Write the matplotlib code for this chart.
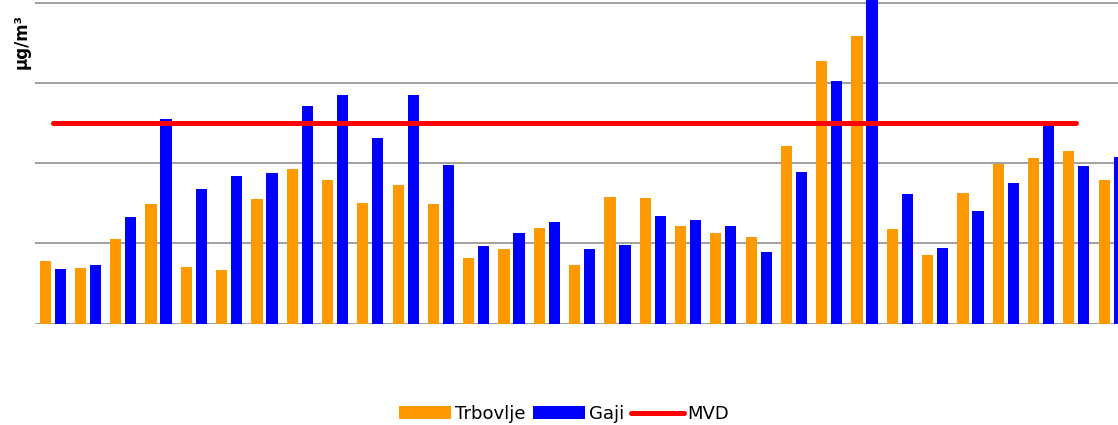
import numpy as np
import matplotlib.pyplot as plt

# daily PM10 concentrations, µg/m³
days = list(range(1, 32))
trbovlje = [15.7, 13.9, 21.2, 29.7, 14.0, 13.4, 31.1, 38.5, 35.9, 30.0,
            34.6, 29.7, 16.4, 18.7, 23.8, 14.5, 31.5, 31.3, 24.3, 22.5,
            21.6, 44.4, 65.4, 71.6, 23.5, 17.0, 32.5, 39.7, 41.4, 43.0, 35.7]
gaji = [13.5, 14.6, 26.5, 50.9, 33.6, 36.8, 37.5, 54.2, 56.9, 46.2,
        57.0, 39.5, 19.3, 22.5, 25.3, 18.7, 19.6, 26.9, 25.7, 24.2,
        17.9, 37.7, 60.5, 86.0, 32.2, 18.8, 28.1, 35.1, 49.2, 39.4, 41.5]
mvd = [50] * 30

fig = plt.figure(figsize=(11.18, 4.25), dpi=100)
# axis spans past the right edge of the figure
ax = fig.add_axes([35 / 1118, 101.5 / 425, 1094.3 / 1118, 323.5 / 425])

x = np.arange(len(days))
off = 0.2125
w = 0.32
b1 = ax.bar(x - off, trbovlje, width=w, color='#FF9900', label='Trbovlje', zorder=2)
b2 = ax.bar(x + off, gaji, width=w, color='#0000FF', label='Gaji', zorder=2)
l1, = ax.plot(np.arange(len(mvd)), mvd, color='#FF0000', lw=3.6,
              solid_capstyle='round', label='MVD', zorder=3)

ax.set_xlim(-0.5, len(days) - 0.5)
ax.set_ylim(0, 80.7)
ax.set_yticks([0, 20, 40, 60, 80])
ax.yaxis.grid(True, color='#999999', lw=1.3, zorder=0)
ax.tick_params(left=False, bottom=False, labelleft=False, labelbottom=False)
for s in ax.spines.values():
    s.set_visible(False)

fig.text(22 / 1118, 1 - 42 / 425, 'µg/m³', rotation=90, ha='center',
         va='center', fontsize=12, fontweight='bold')

fig.legend(handles=[b1, b2, l1], loc='center',
           bbox_to_anchor=(564 / 1118, 1 - 414 / 425), ncol=3,
           frameon=False, fontsize=13, handlelength=2.9, handleheight=0.7,
           handletextpad=0.2, columnspacing=0.4, borderaxespad=0)

fig.savefig('out.png', dpi=100)
